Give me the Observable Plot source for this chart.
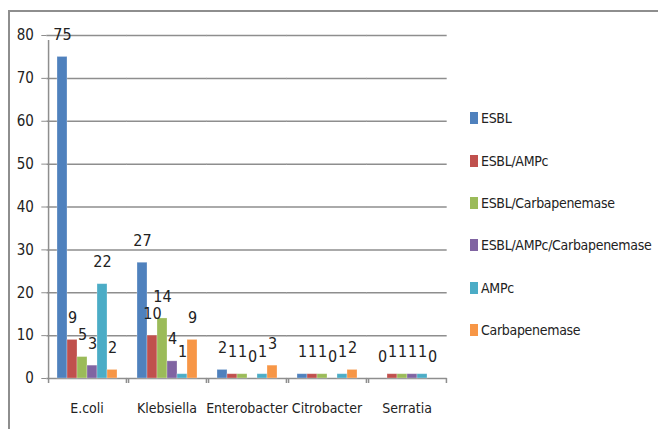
<!DOCTYPE html>
<html>
<head>
<meta charset="utf-8">
<script src="https://cdn.jsdelivr.net/npm/d3@7"></script>
<script src="https://cdn.jsdelivr.net/npm/@observablehq/plot@0.6"></script>
<style>
  html, body { margin: 0; padding: 0; background: #fff; }
  #wrap { position: relative; width: 658px; height: 429px; overflow: hidden;
    font-family: "Liberation Sans Narrow", "DejaVu Sans Condensed", "Liberation Sans", sans-serif; color: #222; }
  #border { position: absolute; left: 8px; top: 10px; right: -4px; bottom: -4px;
    border-top: 2px solid #8e8e8e; border-left: 2px solid #8e8e8e; }
  #chart { position: absolute; left: 0; top: 0; }
  #legend { position: absolute; left: 470px; top: 97px; font-size: 14px; letter-spacing: -0.3px; }
  .row { height: 42.4px; display: flex; align-items: center; white-space: nowrap; }
  .sw { width: 8px; height: 12px; margin-right: 3px; flex: none; }
</style>
</head>
<body>
<div id="wrap">
  <div id="border"></div>
  <div id="chart"></div>
  <div id="legend"></div>
</div>
<script>
const organisms = ["E.coli", "Klebsiella", "Enterobacter", "Citrobacter", "Serratia"];
const mechanisms = ["ESBL", "ESBL/AMPc", "ESBL/Carbapenemase", "ESBL/AMPc/Carbapenemase", "AMPc", "Carbapenemase"];
const esbl          = [75, 27, 2, 1, 0];
const esblAmpc      = [9, 10, 1, 1, 1];
const esblCarba     = [5, 14, 1, 1, 1];
const esblAmpcCarba = [3, 4, 0, 0, 1];
const ampc          = [22, 1, 1, 1, 1];
const carba         = [2, 9, 3, 2, 0];
const colors = ["#4F81BD", "#C0504D", "#9BBB59", "#8064A2", "#4BACC6", "#F79646"];
const yTicks = [0, 10, 20, 30, 40, 50, 60, 70, 80];

const series = [esbl, esblAmpc, esblCarba, esblAmpcCarba, ampc, carba];
const rows = [];
organisms.forEach((o, i) => mechanisms.forEach((m, j) => rows.push({organism: o, mechanism: m, value: series[j][i]})));

const fontFam = '"Liberation Sans Narrow", "DejaVu Sans Condensed", "Liberation Sans", sans-serif';
const gridColor = "#8e8e8e";

// layout
const W = 658, H = 429, mL = 45, mR = 211, mT = 35, mB = 51;
const padIn = 0.216, padOut = padIn / 2;
const step = (W - mL - mR) / (organisms.length - padIn + 2 * padOut);
const gap = step * padIn;                    // space between groups
const barW = step * (1 - padIn) / mechanisms.length;
const edge = barW / 2 + gap / 2;             // from outer bar centre to group boundary

const plot = Plot.plot({
  width: W, height: H,
  marginLeft: mL, marginRight: mR, marginTop: mT, marginBottom: mB,
  style: {fontFamily: fontFam, fontSize: "14px", color: "#222", background: "transparent", overflow: "visible"},
  fx: {domain: organisms, paddingInner: padIn, paddingOuter: padOut, label: null},
  x: {domain: mechanisms, padding: 0, axis: null},
  y: {domain: [0, 80], label: null},
  color: {domain: mechanisms, range: colors},
  marks: [
    // gridlines (extended across the gaps so they run continuously)
    Plot.ruleY(yTicks, {stroke: gridColor, strokeWidth: 1.5, insetLeft: -gap / 2, insetRight: -gap / 2}),
    // vertical axis line
    Plot.ruleX([organisms[0]], {fx: d => d, x: () => mechanisms[0], y1: () => 0, y2: () => 80, insetBottom: -5,
      dx: -edge, stroke: gridColor, strokeWidth: 1.5}),
    // category boundary ticks below the baseline
    Plot.ruleX(organisms, {fx: d => d, x: () => mechanisms[0], y1: () => 0, y2: () => 0, insetBottom: -5,
      dx: -edge, stroke: gridColor, strokeWidth: 1.5}),
    Plot.ruleX(organisms, {fx: d => d, x: () => mechanisms[mechanisms.length - 1], y1: () => 0, y2: () => 0, insetBottom: -5,
      dx: edge, stroke: gridColor, strokeWidth: 1.5}),
    Plot.axisY({ticks: yTicks, tickSize: 5, tickPadding: 8, fontSize: 15, stroke: gridColor, color: "#222", label: null, dx: -gap / 2}),
    Plot.axisFx({anchor: "bottom", tickSize: 0, tickPadding: 25, fontSize: 14, label: null}),
    Plot.barY(rows, {fx: "organism", x: "mechanism", y: "value", fill: "mechanism", stroke: "#ffffff", strokeOpacity: 0.35, strokeWidth: 0.8}),
    Plot.text(rows, {fx: "organism", x: "mechanism", y: "value", text: d => String(d.value), dy: -22, fontSize: 16, fill: "#222"})
  ]
});
document.getElementById("chart").appendChild(plot);

const legend = document.getElementById("legend");
mechanisms.forEach((m, j) => {
  const row = document.createElement("div");
  row.className = "row";
  const sw = document.createElement("div");
  sw.className = "sw";
  sw.style.background = colors[j];
  const t = document.createElement("span");
  t.textContent = m;
  row.appendChild(sw); row.appendChild(t);
  legend.appendChild(row);
});
</script>
</body>
</html>
